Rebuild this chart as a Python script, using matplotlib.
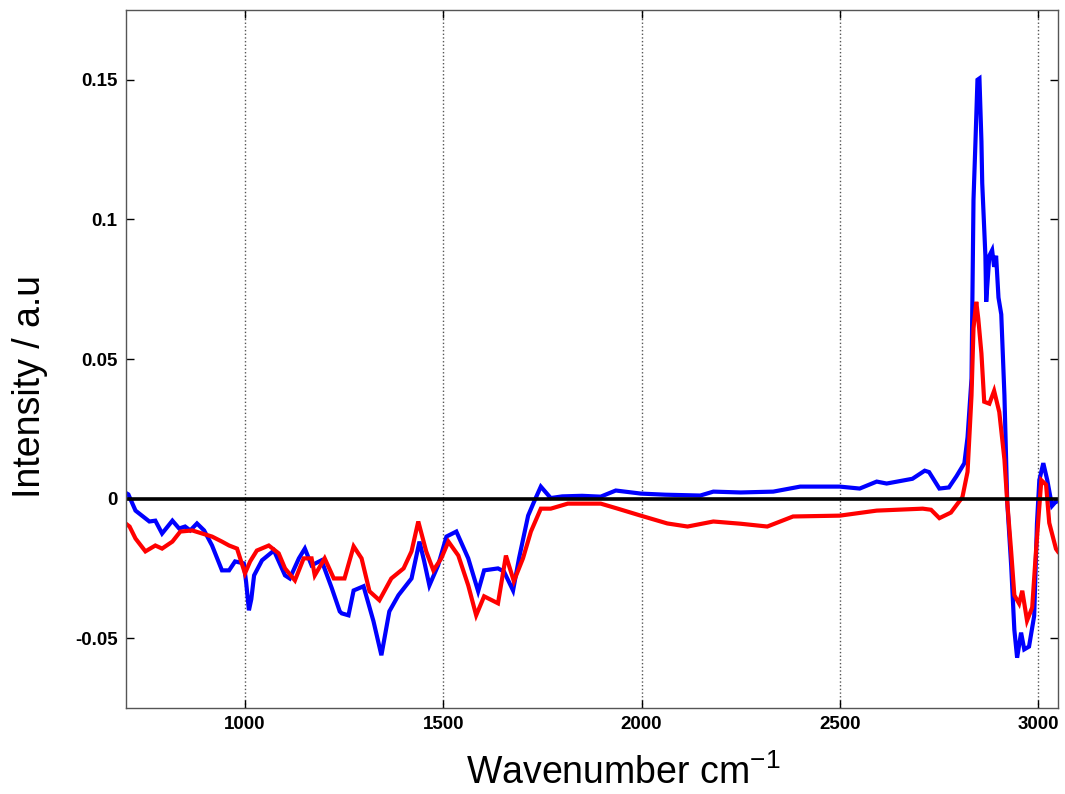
import matplotlib
matplotlib.use("Agg")
import matplotlib.pyplot as plt

plt.rcParams['font.family'] = ['Liberation Sans', 'DejaVu Sans']
plt.rcParams['mathtext.fontset'] = 'custom'
plt.rcParams['mathtext.rm'] = 'Liberation Sans'
plt.rcParams['mathtext.default'] = 'regular'

blue_w = [700, 706, 724, 759, 774, 791, 817, 834, 849, 862, 879, 897, 917, 942, 960, 975, 997, 1003, 1010, 1016, 1023,
          1043, 1073, 1101, 1113, 1136, 1151, 1168, 1193, 1219, 1239, 1244, 1261, 1274, 1299, 1324, 1344, 1364,
          1387, 1420, 1440, 1452, 1465, 1487, 1508, 1533, 1563, 1588, 1603, 1638, 1653, 1676, 1691, 1714, 1729,
          1746, 1771, 1800, 1850, 1897, 1935, 1998, 2060, 2148, 2181, 2250, 2332, 2400, 2500, 2550, 2593, 2618,
          2683, 2714, 2725, 2751, 2775, 2794, 2814, 2822, 2832, 2837, 2842, 2847, 2852, 2857, 2859, 2867, 2869,
          2877, 2884, 2889, 2894, 2900, 2907, 2915, 2922, 2932, 2940, 2947, 2957, 2965, 2977, 2990, 2997, 3003,
          3013, 3023, 3035, 3045, 3050]
blue_v = [0.002, 0.0015, -0.0043, -0.0082, -0.0079, -0.0125, -0.0079, -0.0107, -0.0100, -0.0114, -0.0089, -0.0114,
          -0.0168, -0.0257, -0.0257, -0.0225, -0.0232, -0.030, -0.040, -0.036, -0.0275,
          -0.0221, -0.0186, -0.0275, -0.0286, -0.0214, -0.0179, -0.0239, -0.0221, -0.0321, -0.0404, -0.0411,
          -0.0418, -0.0329, -0.0314, -0.0439, -0.0561, -0.0404, -0.0346, -0.0286, -0.0154, -0.0225, -0.0311,
          -0.0239, -0.0136, -0.0118, -0.0214, -0.0332, -0.0257, -0.0250, -0.0261, -0.0329, -0.0214, -0.0061,
          -0.0011, 0.0043, 0.0002, 0.0008, 0.0010, 0.0007, 0.0029, 0.0018, 0.0014, 0.0011, 0.0025, 0.0022,
          0.0025, 0.0043, 0.0043, 0.0036, 0.0061, 0.0054, 0.0071, 0.0100, 0.0095, 0.0036, 0.0040, 0.0080,
          0.0127, 0.0220, 0.0430, 0.1070, 0.1280, 0.1500, 0.1505, 0.1280, 0.1130, 0.0870, 0.0705, 0.0870,
          0.0890, 0.0830, 0.0870, 0.0720, 0.0660, 0.0370, -0.0010, -0.0240, -0.0470, -0.0570, -0.0480,
          -0.0540, -0.0530, -0.0420, -0.0090, 0.0066, 0.0127, 0.0066, -0.0026, -0.0010, -0.0010]

red_w = [700, 709, 724, 749, 774, 791, 817, 837, 867, 892, 917, 942, 960, 980, 1000, 1013, 1030, 1060, 1085,
         1101, 1126, 1148, 1168, 1176, 1201, 1224, 1236, 1251, 1274, 1294, 1314, 1339, 1369, 1400, 1420, 1437,
         1457, 1475, 1495, 1513, 1538, 1563, 1583, 1603, 1638, 1658, 1678, 1701, 1721, 1746, 1771, 1814, 1897,
         1940, 1998, 2065, 2116, 2181, 2250, 2317, 2382, 2500, 2593, 2709, 2730, 2751, 2780, 2809, 2822, 2832,
         2837, 2844, 2849, 2857, 2864, 2877, 2889, 2902, 2915, 2922, 2932, 2940, 2952, 2960, 2972, 2985, 2995,
         3008, 3020, 3028, 3045, 3050]
red_v = [-0.009, -0.0100, -0.0143, -0.0189, -0.0168, -0.0179, -0.0154, -0.0118, -0.0114, -0.0125, -0.0136,
         -0.0154, -0.0168, -0.0179, -0.0268, -0.0225, -0.0186, -0.0168, -0.0196, -0.0250, -0.0293, -0.0214,
         -0.0214, -0.0275, -0.0214, -0.0286, -0.0286, -0.0286, -0.0171, -0.0214, -0.0332, -0.0364, -0.0286,
         -0.0250, -0.0189, -0.0082, -0.0189, -0.0257, -0.0214, -0.0154, -0.0204, -0.0311, -0.0418, -0.0350,
         -0.0375, -0.0204, -0.0296, -0.0214, -0.0118, -0.0036, -0.0036, -0.0018, -0.0018, -0.0036, -0.0061,
         -0.0089, -0.0100, -0.0082, -0.0090, -0.0100, -0.0064, -0.0061, -0.0043, -0.0036, -0.0040, -0.0070,
         -0.0050, 0.0005, 0.0096, 0.0370, 0.0610, 0.0705, 0.0645, 0.0520, 0.0347, 0.0340, 0.0386, 0.0310,
         0.0140, -0.0010, -0.0190, -0.0346, -0.0376, -0.0330, -0.0437, -0.0390, -0.0180, 0.0066, 0.0050,
         -0.0087, -0.0180, -0.0190]

x_ticks = [1000, 1500, 2000, 2500, 3000]
y_ticks = [-0.05, 0, 0.05, 0.1, 0.15]
y_tick_labels = ['-0.05', '0', '0.05', '0.1', '0.15']

fig = plt.figure(figsize=(10.65, 7.94), dpi=100)
ax = fig.add_axes([0.1183, 0.1083, 0.8751, 0.8791])

ax.plot(blue_w, blue_v, color='#0000ff', lw=3.0, solid_joinstyle='miter')
ax.plot(red_w, red_v, color='#ff0000', lw=3.0, solid_joinstyle='miter')
ax.axhline(0, color='black', lw=2.6)

ax.set_xlim(700, 3050)
ax.set_ylim(-0.075, 0.175)
ax.set_xticks(x_ticks)
ax.set_xticklabels([str(t) for t in x_ticks])
ax.set_yticks(y_ticks)
ax.set_yticklabels(y_tick_labels)
ax.xaxis.grid(True, linestyle=':', color='#555555', lw=1)
ax.tick_params(direction='in', top=True, right=True, length=6, width=1, labelsize=13.5, pad=6)
for lab in ax.get_xticklabels() + ax.get_yticklabels():
    lab.set_fontweight('bold')
for sp in ax.spines.values():
    sp.set_color('#555555')
    sp.set_linewidth(1)

ax.set_xlabel('Wavenumber cm$^{-1}$', fontsize=27)
ax.xaxis.set_label_coords(0.534, -0.066)
ax.set_ylabel('Intensity / a.u', fontsize=27)
ax.yaxis.set_label_coords(-0.084, 0.461)

fig.savefig('out.png', dpi=100)
